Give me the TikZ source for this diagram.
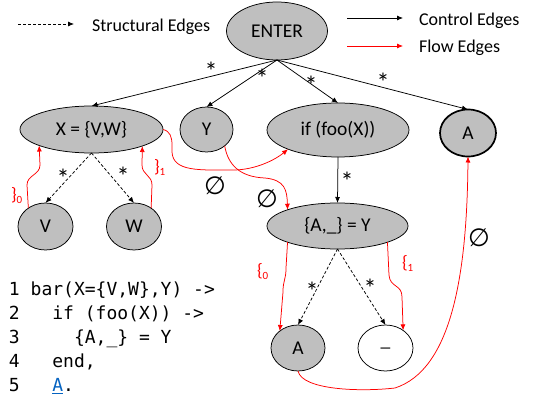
\documentclass[tikz,border=0pt]{standalone}
\usepackage{fontspec}
\setmainfont{Carlito}
\newfontfamily\codefont{DejaVu Sans Mono}
\newfontfamily\symfont{DejaVu Sans}
\usetikzlibrary{arrows.meta,shapes.geometric}
\definecolor{nodegray}{RGB}{191,191,191}
\definecolor{flowred}{RGB}{255,0,0}
\definecolor{linkblue}{RGB}{5,99,193}
\newcommand\flab[2]{#1\raisebox{-3pt}{\fontsize{11}{11}\selectfont #2}}
\begin{document}
\begin{tikzpicture}[x=1pt,y=-1pt,
  every node/.style={inner sep=0pt, outer sep=0pt},
  tipa/.style={-{Latex[length=6pt,width=5pt]}},
  ctrl/.style={tipa, draw=black, line width=0.75pt},
  struct/.style={tipa, draw=black, dash pattern=on 3pt off 2pt, line width=0.75pt},
  flow/.style={tipa, draw=flowred, line width=0.75pt},
  gnode/.style={ellipse, draw=black, fill=nodegray, line width=0.75pt, font=\fontsize{19.5}{20}\selectfont},
  starlab/.style={anchor=north, yshift=4.5pt, font=\fontsize{26}{26}\selectfont},
  legtext/.style={anchor=base west, font=\fontsize{18}{18}\selectfont},
  redlab/.style={anchor=west, text=flowred, font=\fontsize{18}{18}\selectfont},
  empt/.style={font=\symfont\fontsize{25}{25}\selectfont},
  codeline/.style={anchor=base west, font=\codefont\fontsize{18}{18}\selectfont},
]
\useasboundingbox (0,0) rectangle (533,398);

% legend
\coordinate (ls1) at (18,24);
\coordinate (ls2) at (74,24);
\draw[struct] (ls1) -- (ls2);
\node[legtext] (lstext) at (92,32) {Structural Edges};
\coordinate (lc1) at (347,18);
\coordinate (lc2) at (403,18);
\draw[ctrl] (lc1) -- (lc2);
\node[legtext] (lctext) at (419,25.7) {Control Edges};
\coordinate (lf1) at (347,46);
\coordinate (lf2) at (403,46);
\draw[flow] (lf1) -- (lf2);
\node[legtext] (lftext) at (419,52.3) {Flow Edges};

% nodes
\node[gnode, minimum width=101pt, minimum height=58pt] (enter) at (277,31) {ENTER};
\node[gnode, minimum width=143pt, minimum height=47pt] (x) at (91.5,129.5) {X = \{V,W\}};
\node[gnode, minimum width=53pt, minimum height=45pt] (y) at (206.5,129.5) {Y};
\node[gnode, minimum width=142pt, minimum height=54pt] (if) at (338,130) {if (foo(X))};
\node[gnode, line width=1.7pt, minimum width=56pt, minimum height=47pt] (a1) at (468,133) {A};
\node[gnode, minimum width=55pt, minimum height=47pt] (v) at (45.5,226.5) {V};
\node[gnode, minimum width=55pt, minimum height=47pt] (w) at (134,226.5) {W};
\node[gnode, minimum width=141pt, minimum height=46pt] (ay) at (337.5,226) {\{A,\_\} = Y};
\node[gnode, minimum width=54pt, minimum height=46pt] (a2) at (298,348) {A};
\node[gnode, fill=white, minimum width=55pt, minimum height=46pt] (us) at (385.5,348) {\_};

% control edges
\draw[ctrl] (enter.south) -- (x.north);
\draw[ctrl] (enter.south) -- (y.north);
\draw[ctrl] (enter.south) -- (if.north);
\draw[ctrl] (enter.south) -- (a1.north);
\draw[ctrl] (if.south) -- (ay.north);
\node[starlab] (s1) at (211,67) {*};
\node[starlab] (s2) at (262,74) {*};
\node[starlab] (s3) at (311,81) {*};
\node[starlab] (s4) at (383,78) {*};
\node[starlab] (s5) at (347,177) {*};

% structural edges
\draw[struct] (x.south) -- (v.north);
\draw[struct] (x.south) -- (w.north);
\draw[struct] (ay.south) -- (a2.north);
\draw[struct] (ay.south) -- (us.north);
\node[starlab] (s6) at (63,174) {*};
\node[starlab] (s7) at (123,172) {*};
\node[starlab] (s8) at (312,287) {*};
\node[starlab] (s9) at (370,284) {*};

% flow edges
\draw[flow] (v.133) -- (27,185) .. controls (27,175) and (40,175) .. (40,165) -- (x.197);
\draw[flow] (w.47) -- (152,185) .. controls (152,175) and (142,175) .. (142,165) -- (x.-18);
\draw[flow] (x.east) .. controls (170,131) and (172,137) .. (172,145) -- (172,152)
  .. controls (173,172) and (200,170) .. (233,170)
  .. controls (255,170) and (275,160) .. (if.201);
\draw[flow] (y.-42) .. controls (228,165) and (240,177) .. (265,178)
  .. controls (285,180) and (287,190) .. (ay.162);
\draw[flow] (ay.198) -- (286,268) .. controls (286,280) and (283,280) .. (283,292) -- (a2.137);
\draw[flow] (ay.-18) -- (389,275) .. controls (390,288) and (402,284) .. (402,297) -- (us.45);
\draw[flow] (a2.south) .. controls (302,390) and (360,392) .. (395,388)
  .. controls (450,370) and (467,280) .. (a1.south);

% flow labels
\node[redlab] (f1) at (11,196) {\flab{\}}{0}};
\node[redlab] (f2) at (154,167) {\flab{\}}{1}};
\node[redlab] (f3) at (257,271.5) {\flab{\{}{0}};
\node[redlab] (f4) at (402,263) {\flab{\{}{1}};

% empty sets
\node[empt] (e1) at (215,186) {∅};
\node[empt] (e2) at (267,199) {∅};
\node[empt] (e3) at (479,238) {∅};

% code
\node[codeline] (c1) at (9,295) {1 bar(X=\{V,W\},Y) ->};
\node[codeline] (c2) at (9,319.2) {2~~~if (foo(X)) ->};
\node[codeline] (c3) at (9,343.4) {3~~~~~\{A,\_\} = Y};
\node[codeline] (c4) at (9,367.6) {4~~~end,};
\node[codeline] (c5) at (9,391.8) {5~~~\textcolor{linkblue}{\underline{A}}.};
\end{tikzpicture}
\end{document}
